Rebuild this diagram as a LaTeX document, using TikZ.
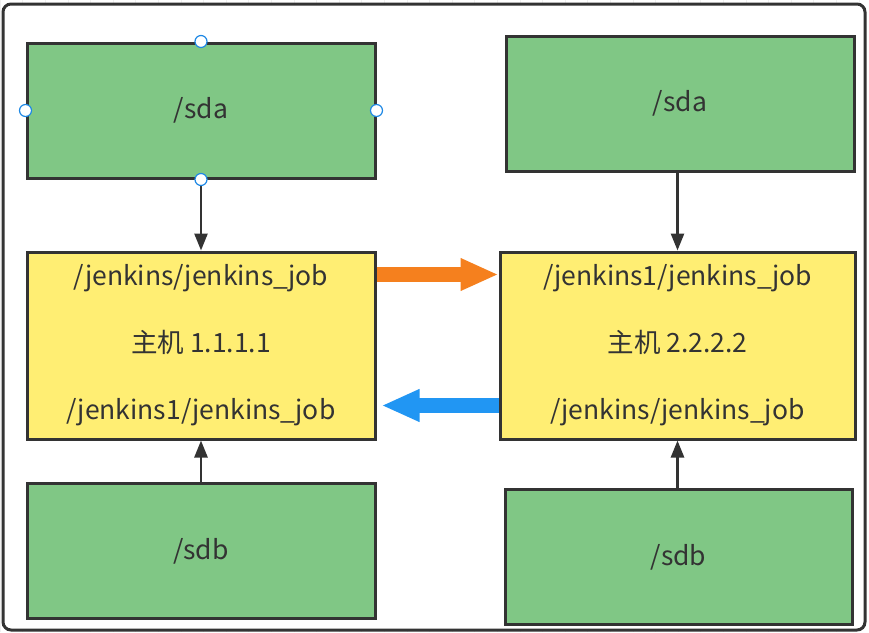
\documentclass[tikz,border=0pt]{standalone}
\usepackage{fontspec}
\setmainfont{Noto Sans CJK SC}
\usetikzlibrary{arrows.meta}
\definecolor{diskgreen}{HTML}{80C785}
\definecolor{hostyellow}{HTML}{FFEE73}
\definecolor{edgegray}{HTML}{333333}
\definecolor{pushorange}{HTML}{F5801E}
\definecolor{pullblue}{HTML}{2196F3}
\definecolor{handleblue}{HTML}{1E88E5}
\begin{document}
\begin{tikzpicture}[x=1pt, y=-1pt,
    disk/.style ={rectangle, draw=edgegray, fill=diskgreen, line width=3pt, text=edgegray,
                  font=\fontsize{26.5}{30}\selectfont, minimum width=348pt, minimum height=135pt},
    host/.style ={rectangle, draw=edgegray, fill=hostyellow, line width=3pt, text=edgegray, align=center,
                  font=\fontsize{26.5}{67}\selectfont, minimum width=348pt, minimum height=187pt},
    feed/.style ={draw=edgegray, line width=2.6pt, -{Triangle[width=13pt, length=17pt]}},
    sync/.style ={line width=15pt, -{Triangle[width=30pt, length=38pt]}},
    handle/.style ={circle, draw=handleblue, fill=white, line width=1.2pt, inner sep=0pt, minimum size=12pt}]
   \useasboundingbox (0,0) rectangle (869,632);
   \draw[gray!12, step=22.6] (0,0) grid (869,632);
   \draw[edgegray, line width=3pt, fill=white, rounded corners=8pt] (3,4) rectangle (865,630);

   \node[disk] (sdaL) at (201,110.5) {/sda};
   \node[disk] (sdaR) at (680,103.5) {/sda};
   \node[host] (hostL) at (201,345.5) {/jenkins/jenkins\_job\\主机 1.1.1.1\\/jenkins1/jenkins\_job};
   \node[host, minimum width=355pt] (hostR) at (677.5,345.5) {/jenkins1/jenkins\_job\\主机 2.2.2.2\\/jenkins/jenkins\_job};
   \node[disk] (sdbL) at (201,551) {/sdb};
   \node[disk, minimum width=347pt] (sdbR) at (678.5,557) {/sdb};

   \draw[feed] (sdaL) to (hostL);
   \draw[feed] (sdaR.south -| hostR.north) to (hostR.north);
   \draw[feed] (sdbL) to (hostL);
   \draw[feed] (sdbR.north -| hostR.south) to (hostR.south);

   \draw[sync, pushorange] ([yshift=-24pt]hostL.north east) to ([yshift=-24pt]hostL.north east -| hostR.west);
   \draw[sync, pullblue, shorten >=5pt] ([yshift=-155pt]hostR.north west) to ([yshift=-155pt]hostR.north west -| hostL.east);

   \foreach \side in {north, south, east, west}
     \node[handle] at (sdaL.\side) {};
 \end{tikzpicture}
\end{document}
